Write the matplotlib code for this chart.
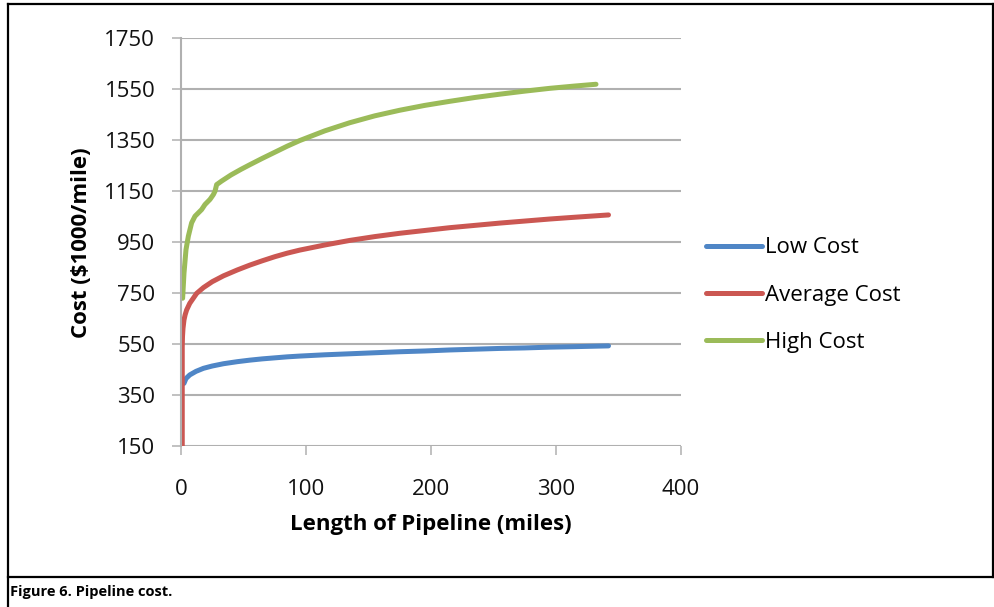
import matplotlib
matplotlib.use("Agg")
import matplotlib.pyplot as plt
from matplotlib.lines import Line2D

# length of pipeline (miles) and cost ($1000/mile)
low_x = [2.4, 4, 7, 12, 18, 25, 34, 45, 55, 65, 75, 85, 95, 115, 135, 155, 175, 195, 215,
         235, 255, 275, 295, 315, 342]
low_y = [396, 415, 429, 443, 455, 464, 473, 481, 487, 492, 496, 500, 503, 508, 512, 516, 520,
         523, 527, 530, 533, 535, 538, 540, 543]

avg_x = [1, 1, 1.2, 1.6, 2.4, 3.3, 4.5, 7, 12.5, 18, 25, 34, 45, 55, 65, 75, 85, 95, 115, 135,
         155, 175, 195, 215, 235, 255, 275, 295, 315, 342]
avg_y = [150, 540, 580, 612, 645, 665, 684, 710, 749, 772, 795, 818, 841, 860, 877, 893, 907,
         919, 939, 957, 972, 985, 996, 1007, 1016, 1025, 1033, 1041, 1048, 1057]

high_x = [1.3, 2.4, 4, 5.9, 8.5, 11.2, 16.5, 19.2, 23.2, 25.9, 27.2, 28.5, 32.5, 40, 48, 55,
          65, 75, 85, 95, 115, 135, 155, 175, 195, 215, 235, 255, 275, 295, 315, 332]
high_y = [730, 829, 921, 974, 1026, 1052, 1078, 1098, 1118, 1137, 1150, 1176, 1190, 1214, 1236,
          1254, 1279, 1303, 1327, 1349, 1387, 1419, 1446, 1468, 1487, 1503, 1518, 1531, 1543,
          1554, 1563, 1570]

series = ["Low Cost", "Average Cost", "High Cost"]
colors = ["#4F86C6", "#CB5752", "#9BBB59"]
y_ticks = [150, 350, 550, 750, 950, 1150, 1350, 1550, 1750]
x_ticks = [0, 100, 200, 300, 400]

plt.rcParams["font.family"] = ["Open Sans", "DejaVu Sans"]
W, H = 995, 607
fig = plt.figure(figsize=(W / 100, H / 100), dpi=100)
ax = fig.add_axes([181 / W, 1 - 446 / H, 500 / W, (446 - 38.4) / H])

grid_c = "#b0b0b0"
for xs, ys, lab, c in zip([low_x, avg_x, high_x], [low_y, avg_y, high_y], series, colors):
    ax.plot(xs, ys, color=c, lw=3.6, label=lab, solid_capstyle="round", solid_joinstyle="round")

ax.set_xlim(0, 400)
ax.set_ylim(150, 1750)
ax.set_xticks(x_ticks)
ax.set_yticks(y_ticks)
ax.yaxis.grid(True, color=grid_c, lw=1.5)
ax.set_axisbelow(True)
for s in ["top", "right", "bottom"]:
    ax.spines[s].set_visible(False)
ax.spines["left"].set_color(grid_c)
ax.spines["left"].set_linewidth(1.5)
ax.tick_params(axis="y", length=6.5, width=1.1, color=grid_c, pad=12, labelsize=16, labelcolor="#111111")
ax.tick_params(axis="x", length=6.5, width=1.1, color=grid_c, pad=17, labelsize=16, labelcolor="#111111")

ax.set_ylabel("Cost ($1000/mile)", fontsize=16, fontweight="bold")
ax.yaxis.set_label_coords(-0.178, 0.5)
ax.set_xlabel("Length of Pipeline (miles)", fontsize=16, fontweight="bold")
ax.xaxis.set_label_coords(0.5, -0.168)

fig.legend(loc="center left", bbox_to_anchor=(706 / W, 1 - 295 / H), frameon=False,
           fontsize=16, handlelength=2.5, handletextpad=0.15, labelspacing=1.18,
           borderpad=0, borderaxespad=0)

# page box and caption
px = lambda x, y: (x / W, 1 - y / H)
def seg(x0, y0, x1, y1, lw=1.6):
    (a, b), (c, d) = px(x0, y0), px(x1, y1)
    fig.add_artist(Line2D([a, c], [b, d], color="black", lw=lw, transform=fig.transFigure))

seg(8, 4, 995, 4)
seg(8, 4, 8, 607)
seg(993, 4, 993, 577)
seg(8, 577, 995, 577)
fig.text(10 / W, 1 - 592 / H, "Figure 6. Pipeline cost.", fontsize=10.5, fontweight="bold",
         va="center", ha="left")

fig.savefig("out.png", dpi=100)
